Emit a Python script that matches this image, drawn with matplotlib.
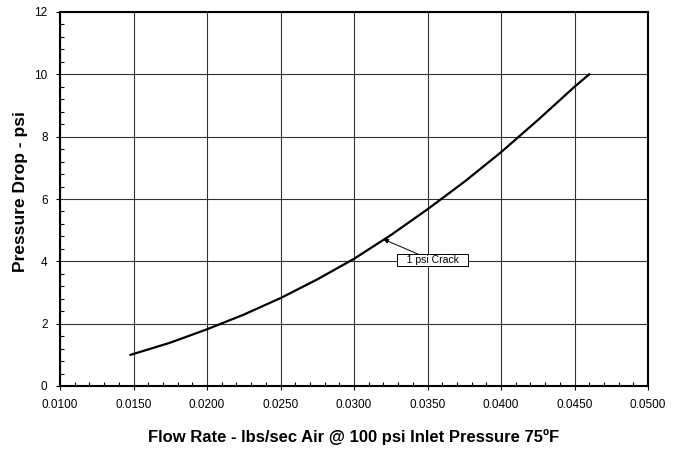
import matplotlib
matplotlib.use("Agg")
import matplotlib.pyplot as plt
from matplotlib.ticker import MultipleLocator, FormatStrFormatter

plt.rcParams['font.family'] = ['Liberation Sans', 'DejaVu Sans']

flow_rate = [0.0148, 0.0175, 0.0200, 0.0225, 0.0250, 0.0275, 0.0300, 0.0325,
             0.0350, 0.0375, 0.0400, 0.0425, 0.0450, 0.0460]
pressure_drop = [1.00, 1.39, 1.82, 2.29, 2.82, 3.42, 4.08, 4.84,
                 5.67, 6.55, 7.50, 8.53, 9.60, 10.00]

annot_text = "1 psi Crack"
annot_point = (0.0320, 4.71)
annot_text_pos = (0.03535, 4.03)

fig = plt.figure(figsize=(6.8, 4.58), dpi=100)
ax = fig.add_axes([60/680, 1-386/458, 588/680, 374/458])

ax.plot(flow_rate, pressure_drop, color='black', lw=1.6, zorder=3)

ax.set_xlim(0.0100, 0.0500)
ax.set_ylim(0, 12)
ax.xaxis.set_major_locator(MultipleLocator(0.005))
ax.xaxis.set_minor_locator(MultipleLocator(0.001))
ax.yaxis.set_major_locator(MultipleLocator(2))
ax.yaxis.set_minor_locator(MultipleLocator(0.4))
ax.xaxis.set_major_formatter(FormatStrFormatter('%.4f'))

ax.grid(which='major', color='#333333', lw=0.8, zorder=1)
ax.set_axisbelow(True)

for s in ax.spines.values():
    s.set_linewidth(1.5)

ax.tick_params(which='major', direction='out', length=3, width=0.8,
               labelsize=8.5, pad=6)
ax.tick_params(which='minor', direction='in', length=3, width=0.8)

ax.annotate("   " + annot_text + "   ", xy=annot_point, xytext=annot_text_pos,
            fontsize=7.5, ha='center', va='center', zorder=4,
            bbox=dict(boxstyle='square,pad=0.1', fc='white', ec='black', lw=0.7),
            arrowprops=dict(arrowstyle='-|>', color='black', lw=0.7,
                            mutation_scale=7, shrinkA=0, shrinkB=0))

fig.text(354/680, 1-437/458, "Flow Rate - lbs/sec Air @ 100 psi Inlet Pressure 75ºF",
         ha='center', va='center', fontsize=12, fontweight='bold')
fig.text(21/680, 1-192/458, "Pressure Drop - psi", rotation=90,
         ha='center', va='center', fontsize=12.5, fontweight='bold')

fig.savefig("out.png", dpi=100)
